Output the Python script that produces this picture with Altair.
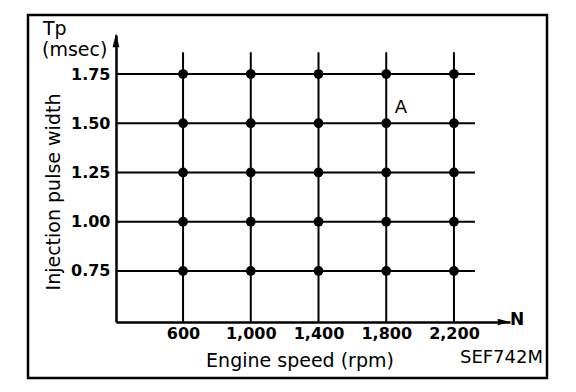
import altair as alt
import pandas as pd

# ---- data ----
speeds = [600, 1000, 1400, 1800, 2200]
pulses = [0.75, 1.00, 1.25, 1.50, 1.75]
x_domain = [204, 2531]
y_domain = [0.491, 1.948]
hline_end = 2324
vline_end = 1.86
label_A = {"speed": 1887, "pulse": 1.552, "text": "A"}

pts = pd.DataFrame([{"speed": s, "pulse": p} for s in speeds for p in pulses])
hlines = pd.DataFrame({"pulse": pulses, "x0": [x_domain[0]] * 5, "x1": [hline_end] * 5})
vlines = pd.DataFrame({"speed": speeds, "y0": [y_domain[0]] * 5, "y1": [vline_end] * 5})
one = pd.DataFrame({"k": [0]})

FONT = "DejaVu Sans"
W, H = 394, 287

xs = alt.Scale(domain=x_domain, nice=False, zero=False)
ys = alt.Scale(domain=y_domain, nice=False, zero=False)

xaxis = alt.Axis(values=speeds, format=",d", ticks=False, grid=False, domain=True,
                 domainColor="black", domainWidth=2.5, labelFont=FONT, labelFontWeight="bold",
                 labelFontSize=16, labelColor="black", labelPadding=3, title="")
yaxis = alt.Axis(values=pulses, format=".2f", ticks=False, grid=False, domain=True,
                 domainColor="black", domainWidth=2.5, labelFont=FONT, labelFontWeight="bold",
                 labelFontSize=16, labelColor="black", labelPadding=6, title="")

base_axes = alt.Chart(pts).mark_point(opacity=0).encode(
    x=alt.X("speed:Q", scale=xs, axis=xaxis),
    y=alt.Y("pulse:Q", scale=ys, axis=yaxis),
)

h = alt.Chart(hlines).mark_rule(color="black", strokeWidth=2).encode(
    x=alt.X("x0:Q", scale=xs), x2="x1:Q", y=alt.Y("pulse:Q", scale=ys))
v = alt.Chart(vlines).mark_rule(color="black", strokeWidth=2).encode(
    y=alt.Y("y0:Q", scale=ys), y2="y1:Q", x=alt.X("speed:Q", scale=xs))

dots = alt.Chart(pts).mark_circle(color="black", opacity=1, size=95).encode(
    x=alt.X("speed:Q", scale=xs), y=alt.Y("pulse:Q", scale=ys))

xarrow = alt.Chart(pd.DataFrame({"speed": [x_domain[1]], "pulse": [y_domain[0]]})).mark_point(
    shape="M0,0 L-2,-0.55 L-2,0.55 Z", filled=True, color="black", opacity=1, size=150
).encode(x=alt.X("speed:Q", scale=xs), y=alt.Y("pulse:Q", scale=ys))
yarrow = alt.Chart(pd.DataFrame({"speed": [x_domain[0]], "pulse": [y_domain[1]]})).mark_point(
    shape="M0,-0.3 L-0.55,2 L0.55,2 Z", filled=True, color="black", opacity=1, size=150
).encode(x=alt.X("speed:Q", scale=xs), y=alt.Y("pulse:Q", scale=ys))

a_text = alt.Chart(pd.DataFrame([label_A])).mark_text(
    font=FONT, fontSize=18, color="black", align="center", baseline="alphabetic"
).encode(x=alt.X("speed:Q", scale=xs), y=alt.Y("pulse:Q", scale=ys), text="text:N")

def txt(t, x, y, size=19, weight="normal", align="left", angle=0, baseline="alphabetic"):
    return alt.Chart(one).mark_text(
        text=t, font=FONT, fontSize=size, fontWeight=weight, color="black",
        align=align, baseline=baseline, angle=angle
    ).encode(x=alt.value(x), y=alt.value(y))

frame = alt.Chart(one).mark_rect(fill="white", fillOpacity=0, stroke="black", strokeWidth=2.5).encode(
    x=alt.value(-88), x2=alt.value(431), y=alt.value(-20), y2=alt.value(343))

chart = alt.layer(
    frame, base_axes, h, v, dots, xarrow, yarrow, a_text,
    txt("Tp", -73, 0),
    txt("(msec)", -74, 21),
    txt("Injection pulse width", -62, 157, angle=270, align="center", baseline="middle"),
    txt("Engine speed (rpm)", 184, 332, align="center"),
    txt("SEF742M", 427, 328, size=18, align="right"),
    txt("N", 394, 290, size=17, weight="bold"),
).properties(
    width=W, height=H,
    autosize=alt.AutoSizeParams(type="none"),
    padding={"left": 108, "top": 27, "right": 58, "bottom": 62},
).configure_view(strokeWidth=0)

chart.save("out.html", embed_options={"renderer": "svg", "actions": False})
